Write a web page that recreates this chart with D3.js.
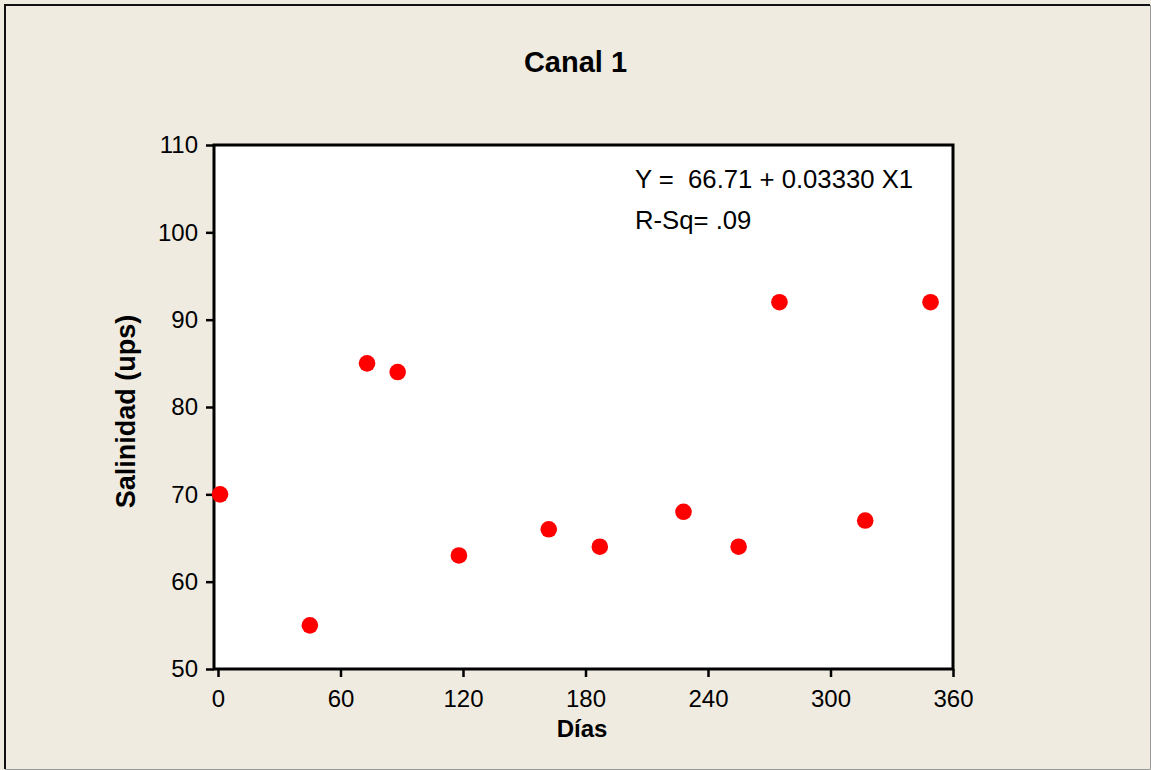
<!DOCTYPE html>
<html>
<head>
<meta charset="utf-8">
<script src="https://cdn.jsdelivr.net/npm/d3@7"></script>
<style>
    body { margin: 0; background: #efebe1; }
    svg { display: block; font-family: "Liberation Sans", Arial, sans-serif; }
</style>
</head>
<body>
<div id="chart"></div>
<script>
// data
var dias = [1, 45, 73, 88, 118, 162, 187, 228, 255, 275, 317, 349];
var salinidad = [70, 55, 85, 84, 63, 66, 64, 68, 64, 92, 67, 92];
var xTicks = [0, 60, 120, 180, 240, 300, 360];
var yTicks = [50, 60, 70, 80, 90, 100, 110];
var equationLines = ["Y =  66.71 + 0.03330 X1", "R-Sq= .09"];

var width = 1151;
var height = 770;
var frame = { left: 214, right: 953, top: 145, bottom: 669 };

var svg = d3.select("#chart").append("svg")
    .attr("width", width)
    .attr("height", height);

// background and outer border
svg.append("rect")
    .attr("width", width)
    .attr("height", height)
    .attr("fill", "#efebe1");
svg.append("path")
    .attr("d", "M5," + (height - 1) + "V5H" + (width - 1))
    .attr("fill", "none")
    .attr("stroke", "#111")
    .attr("stroke-width", 2);
svg.append("path")
    .attr("d", "M5," + (height - 0.5) + "H" + (width - 0.5) + "V5")
    .attr("fill", "none")
    .attr("stroke", "#999")
    .attr("stroke-width", 1);

// scales
var x = d3.scaleLinear().domain([0, 360]).range([218, frame.right]);
var y = d3.scaleLinear().domain([50, 110]).range([frame.bottom, frame.top]);

// plot area
svg.append("rect")
    .attr("x", frame.left)
    .attr("y", frame.top)
    .attr("width", frame.right - frame.left)
    .attr("height", frame.bottom - frame.top)
    .attr("fill", "#fff");

// axes
function styleAxis(g) {
    g.select(".domain").remove();
    g.selectAll(".tick line").attr("stroke", "#000").attr("stroke-width", 2.5);
    g.selectAll(".tick text").attr("fill", "#000").style("font-size", "24px");
}

svg.append("g")
    .attr("transform", "translate(0," + frame.bottom + ")")
    .call(d3.axisBottom(x).tickValues(xTicks).tickSize(8).tickPadding(13).tickFormat(d3.format("d")))
    .call(styleAxis);

svg.append("g")
    .attr("transform", "translate(" + frame.left + ",0)")
    .call(d3.axisLeft(y).tickValues(yTicks).tickSize(8).tickPadding(8).tickFormat(d3.format("d")))
    .call(styleAxis);

// frame drawn over the ticks
svg.append("rect")
    .attr("x", frame.left)
    .attr("y", frame.top)
    .attr("width", frame.right - frame.left)
    .attr("height", frame.bottom - frame.top)
    .attr("fill", "none")
    .attr("stroke", "#000")
    .attr("stroke-width", 3);

// points
svg.append("g").selectAll("circle")
    .data(dias)
    .enter()
    .append("circle")
    .attr("cx", function(d) { return x(d); })
    .attr("cy", function(d, i) { return y(salinidad[i]); })
    .attr("r", 8.3)
    .attr("fill", "#ff0000");

// regression text
svg.append("g").selectAll("text")
    .data(equationLines)
    .enter()
    .append("text")
    .attr("x", 635)
    .attr("y", function(d, i) { return 188 + i * 41; })
    .style("font-size", "25.7px")
    .style("white-space", "pre")
    .attr("xml:space", "preserve")
    .text(function(d) { return d; });

// titles
svg.append("text")
    .attr("x", 575.5)
    .attr("y", 72)
    .attr("text-anchor", "middle")
    .style("font-size", "29px")
    .style("font-weight", "bold")
    .text("Canal 1");

svg.append("text")
    .attr("x", 582)
    .attr("y", 737)
    .attr("text-anchor", "middle")
    .style("font-size", "24px")
    .style("font-weight", "bold")
    .text("Días");

svg.append("text")
    .attr("text-anchor", "middle")
    .attr("transform", "translate(135,411.5)rotate(-90)")
    .style("font-size", "27px")
    .style("font-weight", "bold")
    .text("Salinidad (ups)");
</script>
</body>
</html>
